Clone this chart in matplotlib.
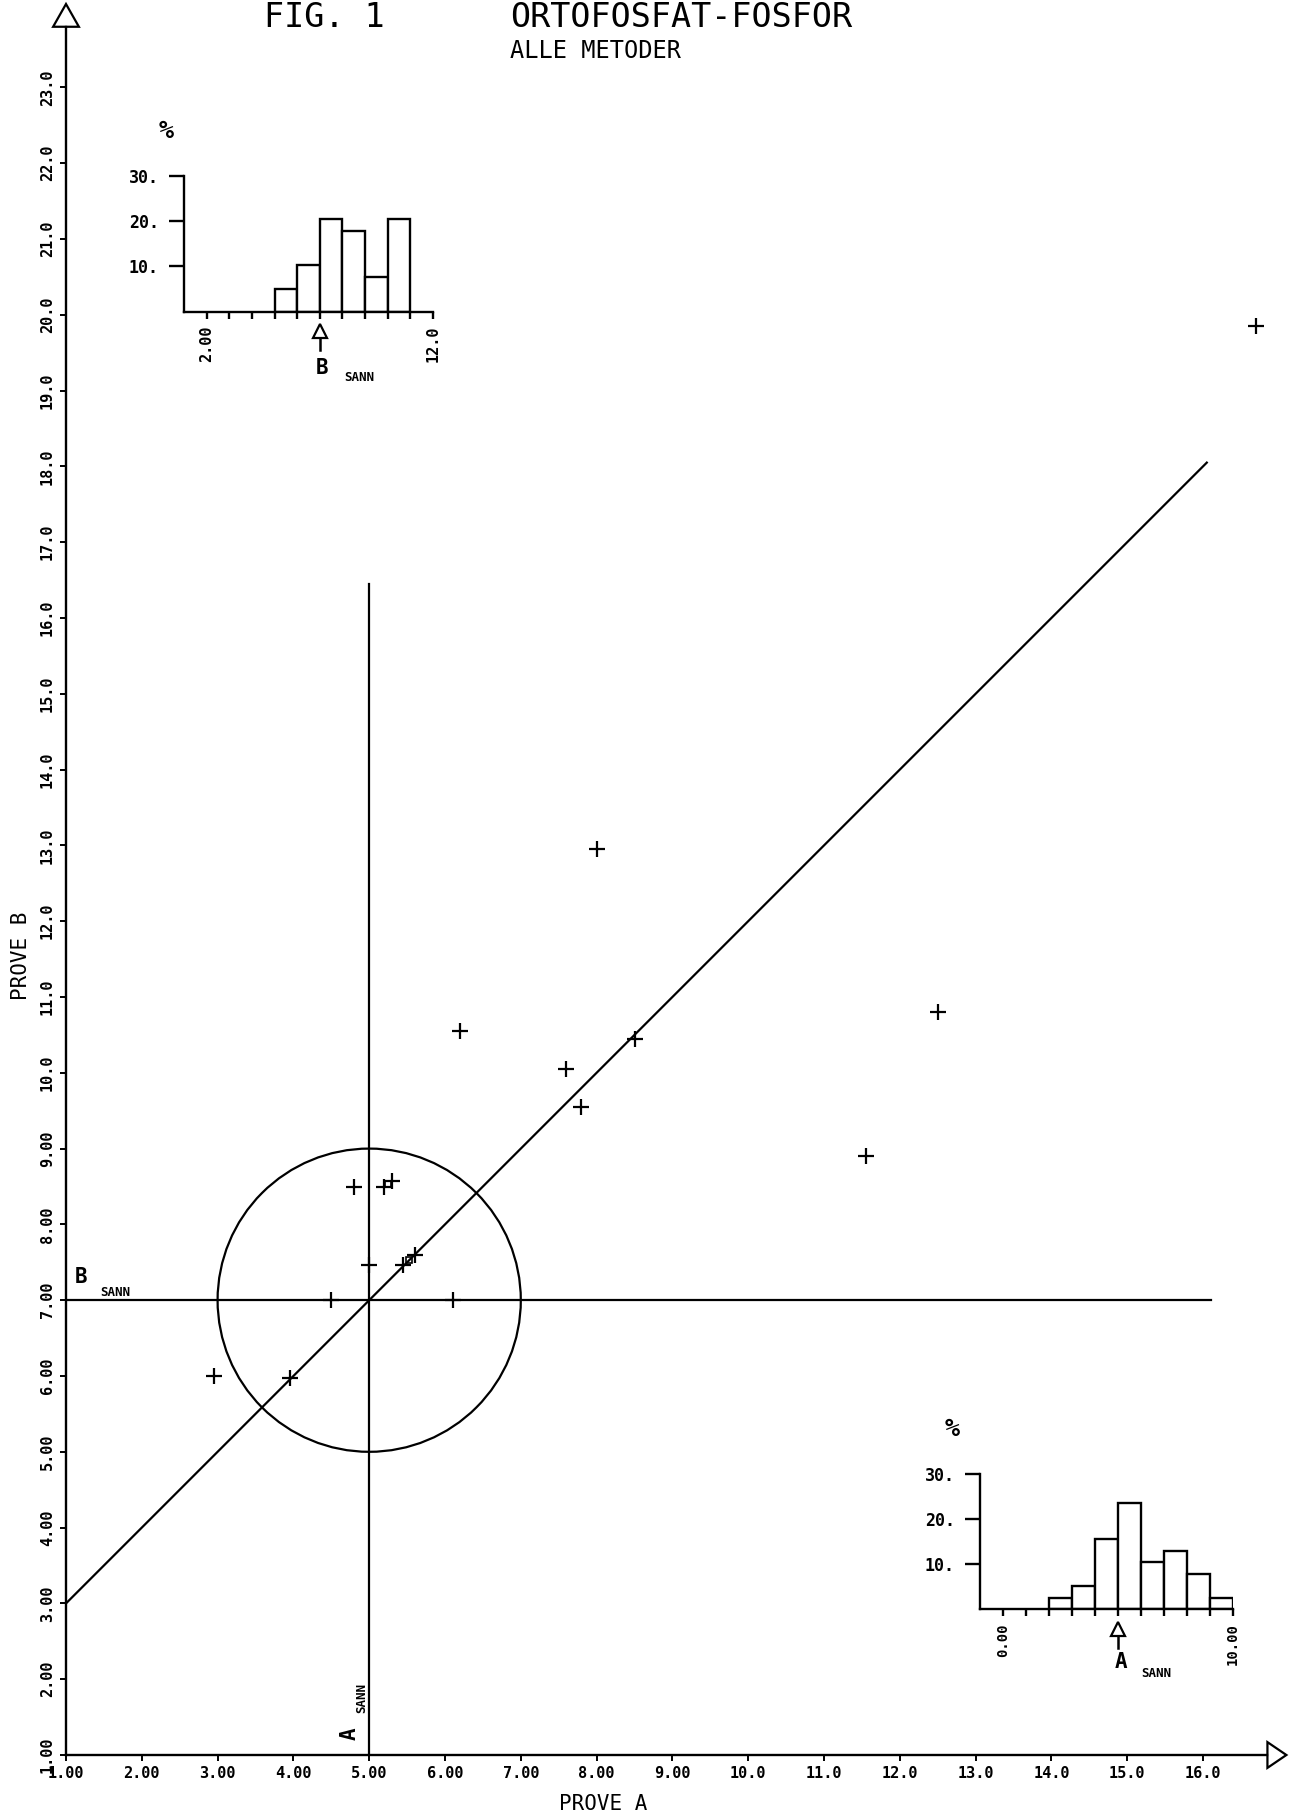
import numpy as np
import matplotlib.pyplot as plt
from matplotlib.patches import Ellipse, Polygon

plt.rcParams['font.family'] = ['DejaVu Sans Mono']

# resultater, prove A og prove B
prove_a = [16.7, 8.0, 6.2, 12.5, 8.5, 7.6, 7.8, 11.55, 4.8, 5.2, 5.3, 5.0, 5.45, 5.6, 2.95, 3.95, 4.5, 6.1]
prove_b = [19.85, 12.95, 10.55, 10.8, 10.45, 10.05, 9.55, 8.9, 8.5, 8.5, 8.57, 7.47, 7.47, 7.6, 6.0, 5.97, 7.0, 7.0]
# overlappende punkter (merket med firkant)
overlapp_a = [5.25, 5.53]
overlapp_b = [8.53, 7.53]

a_sann = 5.0
b_sann = 7.0
radius = 2.0

# histogrammer (prosent)
hist_b_kant = [5, 6, 7, 8, 9, 10]
hist_b_pst = [5.1, 10.3, 20.5, 17.9, 7.7, 20.5]
hist_a_kant = [2, 3, 4, 5, 6, 7, 8, 9]
hist_a_pst = [2.6, 5.1, 15.6, 23.5, 10.4, 12.9, 7.8, 2.6]

x_ticks = np.arange(1, 17)
x_labels = ["1.00", "2.00", "3.00", "4.00", "5.00", "6.00", "7.00", "8.00", "9.00",
            "10.0", "11.0", "12.0", "13.0", "14.0", "15.0", "16.0"]
y_ticks = np.arange(1, 24)
y_labels = ["1.00", "2.00", "3.00", "4.00", "5.00", "6.00", "7.00", "8.00", "9.00",
            "10.0", "11.0", "12.0", "13.0", "14.0", "15.0", "16.0", "17.0", "18.0",
            "19.0", "20.0", "21.0", "22.0", "23.0"]

W, H = 1289, 1818
fig = plt.figure(figsize=(W / 100, H / 100), dpi=100)
fig.patch.set_facecolor("white")

# hovedplott: (1,1) ligger i piksel (66, 1755), 75.8 piksler per enhet
ax = fig.add_axes([66 / W, 63 / H, 16.12 * 75.8 / W, 23.15 * 75.8 / H])
ax.set_xlim(1, 17.12)
ax.set_ylim(1, 24.15)
ax.patch.set_alpha(0)
for s in ["top", "right"]:
    ax.spines[s].set_visible(False)
ax.spines["left"].set_bounds(1, 23.8)
ax.spines["bottom"].set_bounds(1, 16.85)
for s in ["left", "bottom"]:
    ax.spines[s].set_linewidth(1.7)

ax.set_xticks(x_ticks)
ax.set_xticklabels(x_labels, fontsize=11, fontweight="bold")
ax.set_yticks(y_ticks)
ax.set_yticklabels(y_labels, fontsize=11, fontweight="bold", rotation=90, va="center")
ax.tick_params(axis="both", direction="out", length=4, width=1.4, pad=4)

# pilspisser paa aksene
ax.add_patch(Polygon([[16.85, 1.17], [17.1, 1.0], [16.85, 0.83]], closed=True,
                     facecolor="white", edgecolor="black", lw=1.6, clip_on=False))
ax.add_patch(Polygon([[0.83, 23.8], [1.0, 24.1], [1.17, 23.8]], closed=True,
                     facecolor="white", edgecolor="black", lw=1.6, clip_on=False))

# sann-verdi linjer, 45 graders linje og sirkel
ax.plot([a_sann, a_sann], [1, 16.45], color="black", lw=1.6)
ax.plot([1, 16.1], [b_sann, b_sann], color="black", lw=1.6)
xd = np.array([1, 16.05])
ax.plot(xd, xd + (b_sann - a_sann), color="black", lw=1.6)
ax.add_patch(Ellipse((a_sann, b_sann), 2 * radius, 2 * radius, fill=False,
                     edgecolor="black", lw=1.6))

ax.plot(prove_a, prove_b, "+", color="black", markersize=12, mew=1.6, clip_on=False)
ax.plot(overlapp_a, overlapp_b, "s", color="black", mfc="none", markersize=4, mew=1.2)

ax.text(1.12, 7.3, "B", fontsize=15, fontweight="bold", ha="left", va="center")
ax.text(1.45, 7.02, "SANN", fontsize=9, fontweight="bold", ha="left", va="bottom")
ax.text(4.74, 1.28, "A", fontsize=15, fontweight="bold", rotation=90, ha="center", va="center")
ax.text(4.9, 1.55, "SANN", fontsize=9, fontweight="bold", rotation=90, ha="center", va="bottom")

fig.text(603 / W, 1 - 1804 / H, "PROVE A", fontsize=15, ha="center", va="center")
fig.text(21 / W, 1 - 956 / H, "PROVE B", fontsize=15, rotation=90, ha="center", va="center")

fig.text(385 / W, 1 - 27 / H, "FIG. 1", fontsize=24, ha="right", va="baseline")
fig.text(510 / W, 1 - 27 / H, "ORTOFOSFAT-FOSFOR", fontsize=24, ha="left", va="baseline")
fig.text(510 / W, 1 - 58 / H, "ALLE METODER", fontsize=17, ha="left", va="baseline")

# innfelt histogram for prove B
axb = fig.add_axes([184 / W, (H - 311.7) / H, 249 / W, 135.7 / H])
axb.bar(hist_b_kant, hist_b_pst, width=1, align="edge", facecolor="white",
        edgecolor="black", lw=1.7)
axb.set_xlim(1, 12)
axb.set_ylim(0, 30)
axb.patch.set_alpha(0)
for s in ["top", "right"]:
    axb.spines[s].set_visible(False)
for s in ["left", "bottom"]:
    axb.spines[s].set_linewidth(1.7)
axb.set_yticks([10, 20, 30])
axb.set_yticklabels(["10.", "20.", "30."], fontsize=12, fontweight="bold")
axb.set_xticks(np.arange(2, 13))
axb.set_xticklabels(["2.00"] + [""] * 9 + ["12.0"], fontsize=11, fontweight="bold",
                    rotation=90)
axb.tick_params(axis="y", direction="out", length=11, width=1.7, pad=7)
axb.tick_params(axis="x", direction="out", length=5, width=1.7, pad=5)
axb.plot([b_sann, b_sann], [-4.5, -8.5], color="black", lw=1.8, clip_on=False)
axb.plot([b_sann], [-4.3], "^", mfc="white", mec="black", mew=1.6, markersize=10, clip_on=False)
axb.text(7.1, -12.5, "B", fontsize=15, fontweight="bold", ha="center", va="center")
axb.text(8.1, -14.5, "SANN", fontsize=9, fontweight="bold", ha="left", va="center")
axb.text(0.2, 40, "%", fontsize=18, fontweight="bold", ha="center", va="center")

# innfelt histogram for prove A
axa = fig.add_axes([980 / W, (H - 1609.3) / H, 253 / W, 135.3 / H])
axa.bar(hist_a_kant, hist_a_pst, width=1, align="edge", facecolor="white",
        edgecolor="black", lw=1.7)
axa.set_xlim(-1, 10)
axa.set_ylim(0, 30)
axa.patch.set_alpha(0)
for s in ["top", "right"]:
    axa.spines[s].set_visible(False)
for s in ["left", "bottom"]:
    axa.spines[s].set_linewidth(1.7)
axa.set_yticks([10, 20, 30])
axa.set_yticklabels(["10.", "20.", "30."], fontsize=12, fontweight="bold")
axa.set_xticks(np.arange(0, 11))
axa.set_xticklabels(["0.00"] + [""] * 9 + ["10.00"], fontsize=10, fontweight="bold",
                    rotation=90)
axa.tick_params(axis="y", direction="out", length=11, width=1.7, pad=7)
axa.tick_params(axis="x", direction="out", length=5, width=1.7, pad=5)
axa.plot([a_sann, a_sann], [-4.5, -8.5], color="black", lw=1.8, clip_on=False)
axa.plot([a_sann], [-4.3], "^", mfc="white", mec="black", mew=1.6, markersize=10, clip_on=False)
axa.text(5.15, -11.7, "A", fontsize=15, fontweight="bold", ha="center", va="center")
axa.text(6.0, -14.3, "SANN", fontsize=9, fontweight="bold", ha="left", va="center")
axa.text(-2.2, 40, "%", fontsize=18, fontweight="bold", ha="center", va="center")

plt.savefig("out.png", dpi=100)
